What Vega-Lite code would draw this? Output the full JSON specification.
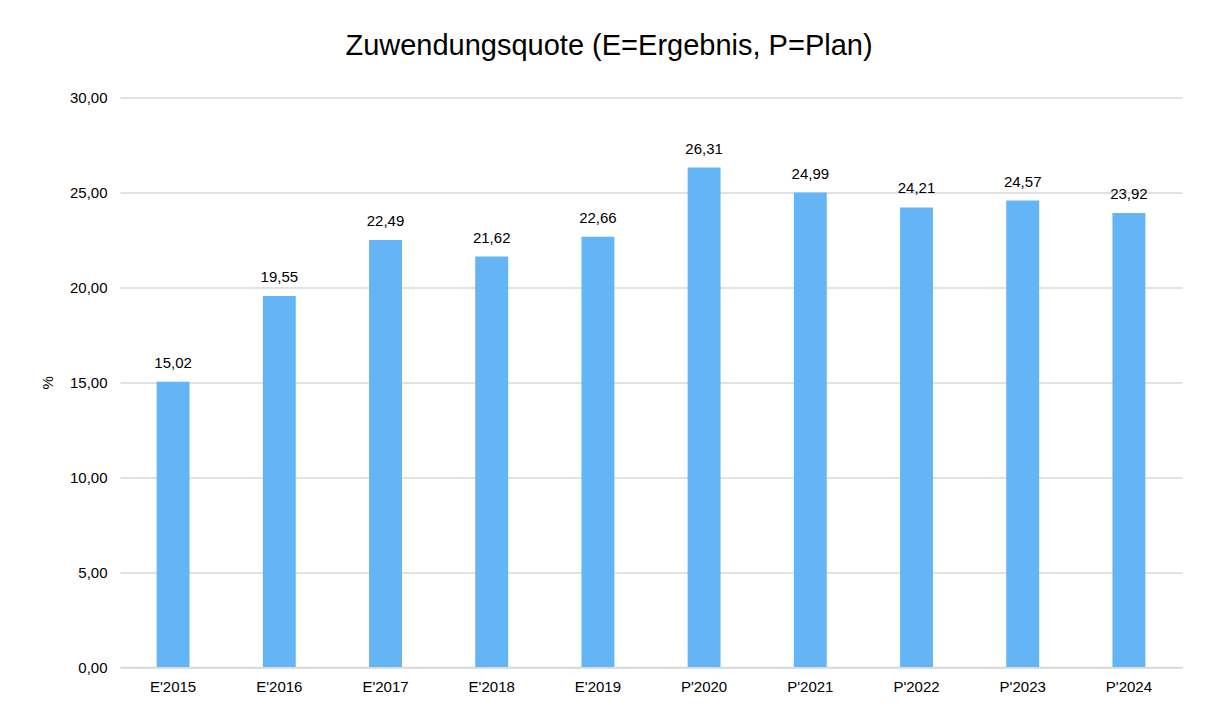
{
  "$schema": "https://vega.github.io/schema/vega-lite/v6.json",
  "width": 1062,
  "height": 569.5,
  "autosize": {"type": "none"},
  "padding": {"left": 120, "top": 97.5, "right": 23, "bottom": 37},
  "background": "#ffffff",
  "config": {
    "locale": {"number": {"decimal": ",", "thousands": ".", "grouping": [3], "currency": ["", " €"]}},
    "font": "Liberation Sans",
    "view": {"stroke": null},
    "title": {"fontSize": 29, "fontWeight": "normal", "color": "#000000", "font": "Liberation Sans"}
  },
  "title": {"text": "Zuwendungsquote (E=Ergebnis, P=Plan)", "offset": 30, "anchor": "middle", "dx": -42},
  "data": {"values": [
    {"jahr": "E'2015", "wert": 15.02},
    {"jahr": "E'2016", "wert": 19.55},
    {"jahr": "E'2017", "wert": 22.49},
    {"jahr": "E'2018", "wert": 21.62},
    {"jahr": "E'2019", "wert": 22.66},
    {"jahr": "P'2020", "wert": 26.31},
    {"jahr": "P'2021", "wert": 24.99},
    {"jahr": "P'2022", "wert": 24.21},
    {"jahr": "P'2023", "wert": 24.57},
    {"jahr": "P'2024", "wert": 23.92}
  ]},
  "encoding": {
    "x": {
      "field": "jahr", "type": "nominal", "sort": null,
      "scale": {"paddingInner": 0.69, "paddingOuter": 0.345},
      "axis": {"title": null, "labelAngle": 0, "labelFontSize": 15, "labelColor": "#000000", "labelPadding": 12, "ticks": false, "domainColor": "#d9d9d9", "domainWidth": 1.3, "labelFont": "Liberation Sans"}
    },
    "y": {
      "field": "wert", "type": "quantitative",
      "scale": {"domain": [0, 30], "nice": false},
      "axis": {"title": "%", "format": ".2f", "values": [0, 5, 10, 15, 20, 25, 30], "labelFontSize": 15, "labelColor": "#000000", "labelPadding": 13, "ticks": false, "domain": false, "gridColor": "#d9d9d9", "gridWidth": 1.3, "titleFontSize": 15, "titleFontWeight": "normal", "titleColor": "#000000", "titlePadding": 14, "labelFont": "Liberation Sans", "titleFont": "Liberation Sans"}
    }
  },
  "layer": [
    {"mark": {"type": "bar", "color": "#64B5F6"}},
    {"mark": {"type": "text", "baseline": "alphabetic", "dy": -14, "fontSize": 15, "color": "#000000"},
     "encoding": {"text": {"field": "wert", "type": "quantitative", "format": ".2f"}}}
  ]
}
